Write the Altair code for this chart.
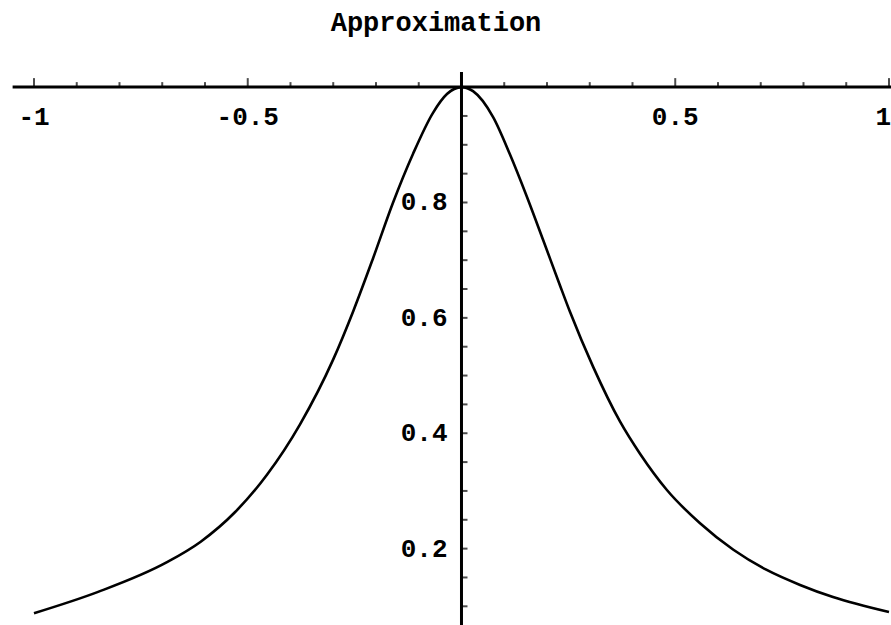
import altair as alt
import pandas as pd

# Sampled points of the approximating curve
curve_x = [-1.0, -0.85, -0.69, -0.61, -0.53, -0.455, -0.378, -0.30, -0.253, -0.207,
           -0.16, -0.113, -0.067, -0.034, 0.0, 0.027, 0.074, 0.113, 0.153, 0.191,
           0.23, 0.254, 0.308, 0.371, 0.418, 0.48, 0.558, 0.636, 0.714, 0.792, 0.869, 1.0]
curve_y = [0.088, 0.125, 0.176, 0.212, 0.263, 0.328, 0.415, 0.528, 0.612, 0.703,
           0.800, 0.885, 0.955, 0.988, 1.0, 0.993, 0.948, 0.884, 0.810, 0.735,
           0.657, 0.610, 0.515, 0.420, 0.364, 0.302, 0.244, 0.198, 0.163, 0.137, 0.116, 0.090]

# Axis ticks and labels (axes cross at x = 0, y = 1)
x_major = [-1, -0.5, 0.5]
x_major_labels = ["-1", "-0.5", "0.5"]
x_end = [1]
x_end_labels = ["1"]
x_minor = [-0.9, -0.8, -0.7, -0.6, -0.4, -0.3, -0.2, -0.1,
           0.1, 0.2, 0.3, 0.4, 0.6, 0.7, 0.8, 0.9]
y_major = [0.2, 0.4, 0.6, 0.8]
y_major_labels = ["0.2", "0.4", "0.6", "0.8"]
y_minor = [0.1, 0.15, 0.25, 0.3, 0.35, 0.45, 0.5, 0.55, 0.65, 0.7,
           0.75, 0.85, 0.9, 0.95]

x_domain = [-1.0795, 1.0047]
y_domain = [0.0676, 1.151]
x_axis_span = [-1.05, 1.0047]
y_axis_span = [0.0676, 1.026]

FONT = "Liberation Mono"

sx = alt.Scale(domain=x_domain, nice=False, zero=False)
sy = alt.Scale(domain=y_domain, nice=False, zero=False)


def X(field):
    return alt.X(field, type="quantitative", scale=sx, axis=None)


def Y(field):
    return alt.Y(field, type="quantitative", scale=sy, axis=None)


curve_df = pd.DataFrame({"x": curve_x, "y": curve_y})
curve = alt.Chart(curve_df).mark_line(
    color="black", strokeWidth=2.6, interpolate="monotone"
).encode(x=X("x"), y=Y("y"))

x_line = alt.Chart(
    pd.DataFrame({"x": [x_axis_span[0]], "x2": [x_axis_span[1]], "y": [1.0]})
).mark_rule(color="black", strokeWidth=3).encode(x=X("x"), x2="x2:Q", y=Y("y"))

y_line = alt.Chart(
    pd.DataFrame({"x": [0.0], "y": [y_axis_span[0]], "y2": [y_axis_span[1]]})
).mark_rule(color="black", strokeWidth=3).encode(x=X("x"), y=Y("y"), y2="y2:Q")

x_major_df = pd.DataFrame({"x": x_major, "y": [1.0] * len(x_major), "label": x_major_labels})
x_end_df = pd.DataFrame({"x": x_end, "y": [1.0] * len(x_end), "label": x_end_labels})
x_minor_df = pd.DataFrame({"x": x_minor, "y": [1.0] * len(x_minor)})
y_major_df = pd.DataFrame({"y": y_major, "x": [0.0] * len(y_major), "label": y_major_labels})
y_minor_df = pd.DataFrame({"y": y_minor, "x": [0.0] * len(y_minor)})

x_major_ticks = alt.Chart(pd.concat([x_major_df, x_end_df])).mark_tick(
    orient="vertical", size=9, thickness=2, yOffset=-4.5, color="black"
).encode(x=X("x"), y=Y("y"))
x_minor_ticks = alt.Chart(x_minor_df).mark_tick(
    orient="vertical", size=5, thickness=2, yOffset=-2.5, color="black"
).encode(x=X("x"), y=Y("y"))

y_ticks = alt.Chart(pd.concat([y_major_df[["x", "y"]], y_minor_df])).mark_tick(
    orient="horizontal", size=6, thickness=2, xOffset=3, color="black"
).encode(x=X("x"), y=Y("y"))

x_labels = alt.Chart(x_major_df).mark_text(
    font=FONT, fontSize=26, fontWeight="bold", align="center", baseline="middle",
    dy=30, color="black"
).encode(x=X("x"), y=Y("y"), text="label:N")

x_end_label = alt.Chart(x_end_df).mark_text(
    font=FONT, fontSize=26, fontWeight="bold", align="right", baseline="middle",
    dx=2, dy=30, color="black"
).encode(x=X("x"), y=Y("y"), text="label:N")

y_labels = alt.Chart(y_major_df).mark_text(
    font=FONT, fontSize=26, fontWeight="bold", align="right", baseline="middle",
    dx=-14, color="black"
).encode(x=X("x"), y=Y("y"), text="label:N")

title = alt.Chart(pd.DataFrame({"t": ["Approximation"]})).mark_text(
    font=FONT, fontSize=27, fontWeight="bold", align="center", baseline="middle",
    color="black"
).encode(x=alt.value(436), y=alt.value(23), text="t:N")

chart = alt.layer(
    x_line, y_line, x_major_ticks, x_minor_ticks, y_ticks,
    x_labels, x_end_label, y_labels, curve, title
).properties(
    width=891, height=625, autosize="none", padding=0, background="white"
).configure_view(stroke=None)

chart.save("out.html", embed_options={"renderer": "svg", "actions": False})
